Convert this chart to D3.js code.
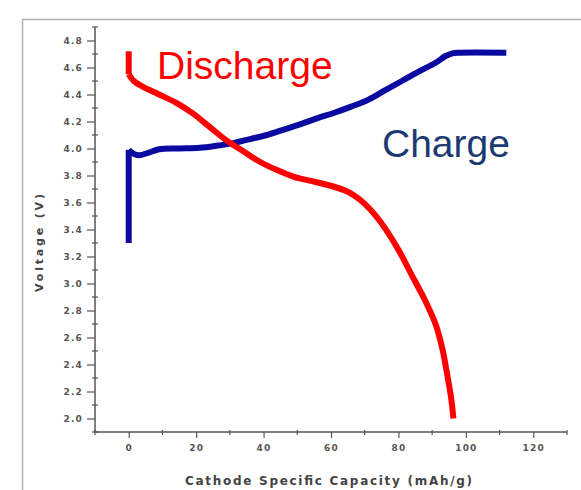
<!DOCTYPE html>
<html>
<head>
<meta charset="utf-8">
<script src="https://cdn.jsdelivr.net/npm/d3@7"></script>
<style>
  body { margin: 0; background: #fff; }
  svg { display: block; }
</style>
</head>
<body>
<svg id="chart" width="581" height="490"></svg>
<script>
// capacity (mAh/g) and voltage (V)
// the first two points of each curve are the vertical jump at 0 mAh/g
var chargeCap  = [0, 0, 1.5, 3, 6, 9, 15, 21, 26, 31, 36, 41, 46, 51, 56, 61, 66, 71, 76, 81, 86, 91, 94, 96, 98, 112];
var chargeVolt = [3.3, 3.99, 3.96, 3.95, 3.97, 3.995, 4.0, 4.005, 4.02, 4.04, 4.07, 4.1, 4.14, 4.18, 4.225, 4.265, 4.31, 4.36, 4.43, 4.5, 4.57, 4.635, 4.685, 4.705, 4.71, 4.71];

var dischargeCap  = [0, 0, 1.5, 4, 9, 14, 19, 24, 29, 34, 39, 44, 49, 54, 59, 64, 67, 70, 73, 76, 80, 84, 88, 91, 93, 94.5, 95.7, 96.3];
var dischargeVolt = [4.72, 4.55, 4.5, 4.46, 4.4, 4.34, 4.26, 4.16, 4.06, 3.98, 3.9, 3.84, 3.79, 3.76, 3.73, 3.69, 3.65, 3.59, 3.51, 3.41, 3.25, 3.06, 2.87, 2.7, 2.52, 2.32, 2.14, 2.0];

var xTicks = [0, 20, 40, 60, 80, 100, 120];
var yTicks = [2.0, 2.2, 2.4, 2.6, 2.8, 3.0, 3.2, 3.4, 3.6, 3.8, 4.0, 4.2, 4.4, 4.6, 4.8];

var svg = d3.select("#chart");

// outer frame, only top and left are visible
svg.append("path")
  .attr("d", "M22.5,490 L22.5,19.5 L581,19.5")
  .attr("fill", "none")
  .attr("stroke", "#b0b0b0")
  .attr("stroke-width", 1.5);

var x = d3.scaleLinear().domain([-10, 130]).range([95, 567]);
var y = d3.scaleLinear().domain([1.9, 4.9]).range([432, 27]);

var axisColor = "#555";

// y axis
var yAxis = d3.axisLeft(y).tickValues(yTicks).tickFormat(d3.format(".1f")).tickSize(8).tickPadding(4);
var gy = svg.append("g").attr("transform", "translate(95,0)").call(yAxis);
gy.select(".domain").attr("stroke", axisColor).attr("stroke-width", 1.5).attr("d", "M0," + y(4.9) + "V" + y(1.9));
gy.selectAll(".tick line").attr("stroke", axisColor).attr("stroke-width", 1.2);
gy.selectAll(".tick text")
  .attr("fill", "#555")
  .style("font-family", "DejaVu Sans, sans-serif")
  .style("font-size", "9px")
  .style("font-weight", "bold")
  .style("letter-spacing", "1.2px");

gy.selectAll(".minor")
  .data(d3.range(1.9, 4.95, 0.1).filter(function(v) { return Math.abs(Math.round(v * 5) - v * 5) > 0.01; }))
  .enter().append("line")
  .attr("x1", -3).attr("x2", 3)
  .attr("y1", function(d) { return y(d); })
  .attr("y2", function(d) { return y(d); })
  .attr("stroke", axisColor).attr("stroke-width", 1.2);

// x axis
var xAxis = d3.axisBottom(x).tickValues(xTicks).tickSize(6).tickPadding(7);
var gx = svg.append("g").attr("transform", "translate(0,432)").call(xAxis);
gx.select(".domain").attr("stroke", axisColor).attr("stroke-width", 1.5).attr("d", "M" + x(-10) + ",0H" + x(130));
gx.selectAll(".tick line").attr("stroke", axisColor).attr("stroke-width", 1.2);
gx.selectAll(".tick text")
  .attr("fill", "#555")
  .style("font-family", "DejaVu Sans, sans-serif")
  .style("font-size", "9px")
  .style("font-weight", "bold")
  .style("letter-spacing", "1.2px");

gx.selectAll(".minor")
  .data([-10, 10, 30, 50, 70, 90, 110, 130])
  .enter().append("line")
  .attr("x1", function(d) { return x(d); })
  .attr("x2", function(d) { return x(d); })
  .attr("y1", -2).attr("y2", 3)
  .attr("stroke", axisColor).attr("stroke-width", 1.2);

// axis titles
svg.append("text")
  .attr("transform", "translate(43,243) rotate(-90)")
  .attr("text-anchor", "middle")
  .attr("fill", "#444")
  .style("font-family", "DejaVu Sans, sans-serif")
  .style("font-size", "11px")
  .style("font-weight", "bold")
  .attr("textLength", 98)
  .attr("lengthAdjust", "spacing")
  .text("Voltage (V)");

svg.append("text")
  .attr("x", 185)
  .attr("y", 485)
  .attr("fill", "#444")
  .style("font-family", "DejaVu Sans, sans-serif")
  .style("font-size", "12px")
  .style("font-weight", "bold")
  .attr("textLength", 287)
  .attr("lengthAdjust", "spacing")
  .text("Cathode Specific Capacity (mAh/g)");

// curves: straight vertical jump, then a smooth part
var straight = d3.line()
  .x(function(d) { return x(d[0]); })
  .y(function(d) { return y(d[1]); });

var smooth = d3.line()
  .x(function(d) { return x(d[0]); })
  .y(function(d) { return y(d[1]); })
  .curve(d3.curveCatmullRom.alpha(0.5));

function drawCurve(pts, color) {
  var g = svg.append("g")
    .attr("fill", "none")
    .attr("stroke", color)
    .attr("stroke-width", 6)
    .attr("stroke-linejoin", "round");
  g.append("path").datum(pts.slice(0, 2)).attr("d", straight);
  g.append("path").datum(pts.slice(1)).attr("d", smooth);
}

drawCurve(d3.zip(chargeCap, chargeVolt), "#0a0aa0");
drawCurve(d3.zip(dischargeCap, dischargeVolt), "#ff0000");

// labels
svg.append("text")
  .attr("x", 157)
  .attr("y", 79)
  .attr("fill", "#ff0000")
  .style("font-family", "Liberation Sans, Arial, sans-serif")
  .style("font-size", "39px")
  .text("Discharge");

svg.append("text")
  .attr("x", 382)
  .attr("y", 157)
  .attr("fill", "#1c3a72")
  .style("font-family", "Liberation Sans, Arial, sans-serif")
  .style("font-size", "39px")
  .text("Charge");
</script>
</body>
</html>
